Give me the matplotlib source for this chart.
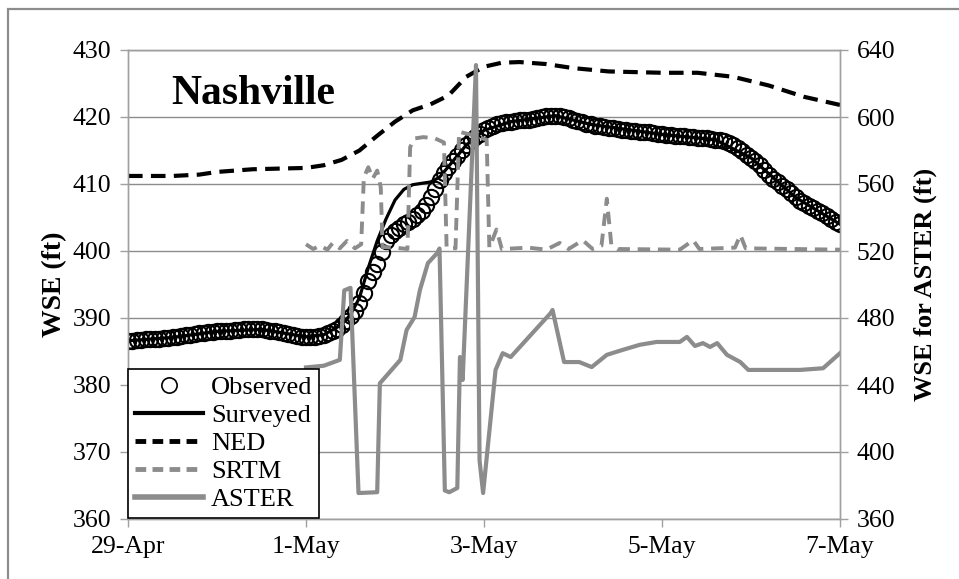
import numpy as np
import matplotlib
matplotlib.use('Agg')
import matplotlib.pyplot as plt
from matplotlib.patches import Rectangle
from matplotlib.lines import Line2D

plt.rcParams['font.family'] = ['Liberation Serif', 'DejaVu Serif']

# -----------------------------
# data (days after 29-Apr)
# -----------------------------
obs_day = np.round(np.arange(0, 8.001, 0.05), 2)
obs_wse = [386.6, 386.6, 386.7, 386.7, 386.8, 386.8, 386.9, 386.9, 387.0, 387.0,
           387.1, 387.2, 387.3, 387.4, 387.5, 387.6, 387.7, 387.8, 387.9, 387.9,
           388.0, 388.0, 388.1, 388.1, 388.2, 388.2, 388.3, 388.3, 388.3, 388.3,
           388.3, 388.2, 388.1, 388.0, 387.9, 387.7, 387.6, 387.4, 387.3, 387.2,
           387.2, 387.1, 387.2, 387.3, 387.5, 387.7, 388.0, 388.4, 389.0, 389.6,
           390.3, 391.1, 392.2, 393.8, 395.5, 396.8, 398.0, 399.8, 401.5, 402.4,
           403.0, 403.5, 404.0, 404.4, 404.8, 405.3, 406.0, 406.9, 408.0, 409.3,
           410.6, 411.7, 412.6, 413.4, 414.2, 415.0, 415.8, 416.4, 417.0, 417.5,
           418.0, 418.4, 418.7, 418.9, 419.1, 419.2, 419.3, 419.4, 419.5, 419.5,
           419.6, 419.7, 419.8, 420.0, 420.1, 420.2, 420.2, 420.1, 420.0, 419.8,
           419.6, 419.4, 419.2, 419.0, 418.9, 418.7, 418.6, 418.5, 418.4, 418.3,
           418.2, 418.1, 418.0, 417.9, 417.9, 417.8, 417.8, 417.7, 417.6, 417.5,
           417.4, 417.3, 417.3, 417.2, 417.2, 417.1, 417.0, 417.0, 416.9, 416.8,
           416.8, 416.7, 416.6, 416.5, 416.4, 416.1, 415.8, 415.4, 414.9, 414.4,
           413.9, 413.4, 412.8, 412.1, 411.4, 410.8, 410.3, 409.7, 409.2, 408.6,
           408.0, 407.5, 407.1, 406.7, 406.4, 406.0, 405.6, 405.2, 404.8, 404.4,
           404.0]

srv_day = [0, 0.5, 1.0, 1.5, 2.0, 2.2, 2.4, 2.5, 2.6, 2.7, 2.8, 2.9, 3.0, 3.1,
           3.2, 3.3, 3.4, 3.5, 3.6, 3.8, 4.0, 4.3, 4.8, 5.2, 6.0, 6.6, 7.0, 7.5, 8.0]
srv_wse = [386.6, 387.1, 388.0, 388.3, 387.2, 387.5, 389.0, 390.5, 393.0, 397.5,
           401.5, 404.8, 407.6, 409.2, 409.9, 410.1, 410.3, 411.0, 412.6, 415.8,
           418.0, 419.3, 420.2, 418.9, 417.4, 416.6, 413.9, 408.0, 404.0]

ned_day = [0, 0.5, 0.8, 1.0, 1.4, 2.0, 2.2, 2.4, 2.6, 2.8, 3.0, 3.2, 3.4, 3.6,
           3.8, 4.0, 4.2, 4.4, 4.7, 5.0, 5.4, 6.0, 6.4, 6.8, 7.2, 7.6, 8.0]
ned_wse = [411.2, 411.2, 411.4, 411.8, 412.2, 412.4, 412.8, 413.6, 415.0, 417.2,
           419.3, 421.0, 421.9, 423.2, 426.0, 427.5, 428.1, 428.2, 427.9, 427.3,
           426.8, 426.6, 426.6, 426.0, 424.7, 423.0, 421.8]

srtm_day = [2.00, 2.08, 2.16, 2.24, 2.30, 2.38, 2.46, 2.55, 2.62, 2.65, 2.70, 2.75,
            2.80, 2.84, 2.86, 3.00, 3.14, 3.17, 3.22, 3.32, 3.45, 3.55, 3.58, 3.68,
            3.72, 3.90, 4.03, 4.06, 4.14, 4.20, 4.50, 4.70, 4.85, 4.95, 5.11, 5.22,
            5.32, 5.38, 5.43, 5.50, 6.20, 6.35, 6.42, 6.82, 6.88, 6.94, 8.00]
srtm_wse = [401.0, 400.3, 400.8, 400.2, 401.2, 400.4, 401.5, 400.4, 401.0, 411.0,
            412.5, 410.8, 412.0, 409.5, 400.6, 400.5, 400.3, 415.5, 416.8, 417.0,
            416.8, 416.2, 400.5, 400.4, 417.8, 417.2, 416.6, 400.5, 403.2, 400.3,
            400.5, 400.2, 401.2, 400.3, 401.6, 400.3, 400.8, 407.8, 401.0, 400.3,
            400.2, 401.6, 400.3, 400.5, 402.4, 400.4, 400.2]

aster_day = [2.00, 2.20, 2.38, 2.43, 2.50, 2.59, 2.80, 2.83, 3.06, 3.13, 3.22,
             3.28, 3.37, 3.47, 3.50, 3.56, 3.61, 3.70, 3.73, 3.76, 3.91, 3.95,
             3.99, 4.13, 4.21, 4.30, 4.75, 4.77, 4.90, 5.07, 5.21, 5.38, 5.56,
             5.75, 5.94, 6.20, 6.28, 6.37, 6.46, 6.54, 6.62, 6.73, 6.88, 6.97,
             7.25, 7.55, 7.81, 8.00]
aster_wse = [450.5, 451.5, 455.0, 496.5, 498.0, 375.5, 376.0, 441.0, 455.0, 472.8,
             480.6, 496.7, 512.8, 518.5, 521.5, 377.0, 376.0, 378.5, 456.7, 443.0,
             631.0, 395.0, 375.5, 449.0, 459.0, 456.7, 483.0, 484.8, 453.7, 453.7,
             450.7, 458.0, 461.0, 464.0, 465.7, 465.7, 468.7, 463.3, 465.0, 462.7,
             465.0, 458.0, 453.7, 449.0, 449.0, 449.0, 450.0, 459.0]

tick_pos = [0, 2, 4, 6, 8]
tick_lab = ['29-Apr', '1-May', '3-May', '5-May', '7-May']

grey = '#8c8c8c'
axis_grey = '#a0a0a0'

# -----------------------------
# figure
# -----------------------------
fig = plt.figure(figsize=(9.59, 5.79), dpi=100)
ax = fig.add_axes([128 / 959, 60 / 579, 712 / 959, 469 / 579])
ax2 = ax.twinx()

ax.plot(obs_day, obs_wse, linestyle='none', marker='o', markersize=11,
        markerfacecolor='none', markeredgecolor='black', markeredgewidth=1.5,
        zorder=3)
ax.plot(srv_day, srv_wse, color='black', linewidth=2.3, zorder=4)
ax.plot(ned_day, ned_wse, color='black', linewidth=3, linestyle=(0, (3.5, 2)),
        zorder=4)
ax.plot(srtm_day, srtm_wse, color=grey, linewidth=2.8, linestyle=(0, (3.2, 2)),
        zorder=5)
ax2.plot(aster_day, aster_wse, color=grey, linewidth=3)

# axes ranges
ax.set_xlim(0, 8)
ax.set_ylim(360, 430)
ax2.set_ylim(360, 640)
ax.set_xticks(tick_pos)
ax.set_xticklabels(tick_lab)
ax.set_yticks(np.arange(360, 431, 10))
ax2.set_yticks(np.arange(360, 641, 40))

ax.grid(axis='y', color=grey, linewidth=1.0)
ax.set_axisbelow(True)

for a in (ax, ax2):
    for sp in a.spines.values():
        sp.set_color(axis_grey)
        sp.set_linewidth(1.0)
    a.tick_params(direction='out', length=6, width=1, color=axis_grey,
                  labelsize=18.5, pad=6)

ax.set_ylabel('WSE (ft)', fontsize=20, fontweight='bold', labelpad=4)
ax2.set_ylabel('WSE for ASTER (ft)', fontsize=19, fontweight='bold', labelpad=13)

ax.text(0.49, 423.4, 'Nashville', fontsize=30, fontweight='bold',
        ha='left', va='center')

# legend
handles = [
    Line2D([], [], linestyle='none', marker='o', markersize=11,
           markerfacecolor='none', markeredgecolor='black', markeredgewidth=1.2),
    Line2D([], [], color='black', linewidth=3),
    Line2D([], [], color='black', linewidth=3.5, linestyle=(0, (2.2, 1.3))),
    Line2D([], [], color=grey, linewidth=3.5, linestyle=(0, (2.2, 1.3))),
    Line2D([], [], color=grey, linewidth=4),
]
labels = ['Observed', 'Surveyed', 'NED', 'SRTM', 'ASTER']
leg = ax2.legend(handles, labels, loc='lower left', bbox_to_anchor=(0, 0.003),
                 borderaxespad=0, fontsize=19, handlelength=2.6,
                 handletextpad=0.3, labelspacing=0.17, borderpad=0.25,
                 fancybox=False, framealpha=1)
leg.get_frame().set_edgecolor('black')
leg.get_frame().set_linewidth(1.2)

# chart border
fig.patches.append(Rectangle((8 / 959, -0.5), 2, 1.5 - 9 / 579,
                             transform=fig.transFigure, fill=False,
                             edgecolor=grey, linewidth=1.6))

plt.savefig('out.png', dpi=100)
